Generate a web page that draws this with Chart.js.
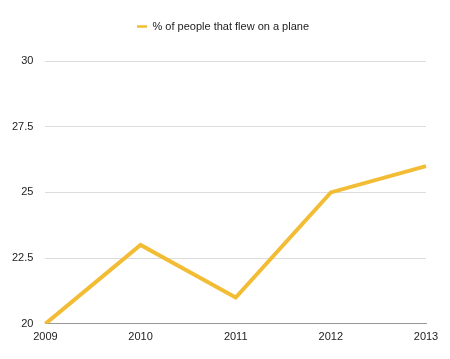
<!DOCTYPE html>
<html>
<head>
<meta charset="utf-8">
<script src="https://cdn.jsdelivr.net/npm/chart.js@4"></script>
<style>
  html, body { margin: 0; padding: 0; background: #fff; }
  #wrap { width: 450px; height: 359px; }
</style>
</head>
<body>
<div id="wrap"><canvas id="flightChart"></canvas></div>
<script>
const years = ["2009", "2010", "2011", "2012", "2013"];
const flewPercent = [20, 23, 21, 25, 26];
const yTicks = [20, 22.5, 25, 27.5, 30];

const fontFamily = "Liberation Sans, Arial, sans-serif";

// extra room under the legend, and nudge it right a bit
const legendSpacer = {
  id: "legendSpacer",
  beforeInit(chart) {
    const origFit = chart.legend.fit;
    chart.legend.fit = function () {
      origFit.call(this);
      this.height += 19;
    };
  },
  afterLayout(chart) {
    chart.legend.left += 10;
    chart.legend.right += 10;
  }
};

const ctx = document.getElementById("flightChart").getContext("2d");

new Chart(ctx, {
  type: "line",
  data: {
    labels: years,
    datasets: [
      {
        label: "% of people that flew on a plane",
        data: flewPercent,
        borderColor: "#f2bd35",
        backgroundColor: "#f2bd35",
        borderWidth: 4,
        pointRadius: 0,
        tension: 0
      }
    ]
  },
  plugins: [legendSpacer],
  options: {
    responsive: true,
    maintainAspectRatio: false,
    animation: false,
    layout: {
      padding: { left: 0, right: 24, top: 3, bottom: 8 }
    },
    plugins: {
      legend: {
        labels: {
          usePointStyle: true,
          pointStyle: "line",
          pointStyleWidth: 10,
          color: "#222",
          font: { family: fontFamily, size: 11 },
          padding: 18,
          generateLabels(chart) {
            const items = Chart.defaults.plugins.legend.labels.generateLabels(chart);
            items.forEach((it) => {
              it.pointStyle = "line";
              it.lineWidth = 2.5;
            });
            return items;
          }
        }
      },
      tooltip: { enabled: false }
    },
    scales: {
      x: {
        offset: false,
        grid: { display: false, drawTicks: false },
        border: { display: true, color: "#999", width: 1 },
        ticks: {
          color: "#222",
          maxRotation: 0,
          padding: 7,
          font: { family: fontFamily, size: 11 }
        }
      },
      y: {
        min: 20,
        max: 30,
        afterBuildTicks: (axis) => {
          axis.ticks = yTicks.map((v) => ({ value: v }));
        },
        grid: { color: "#dcdcdc", drawTicks: false },
        border: { display: false },
        ticks: {
          color: "#222",
          padding: 12,
          font: { family: fontFamily, size: 11 }
        }
      }
    }
  }
});
</script>
</body>
</html>
